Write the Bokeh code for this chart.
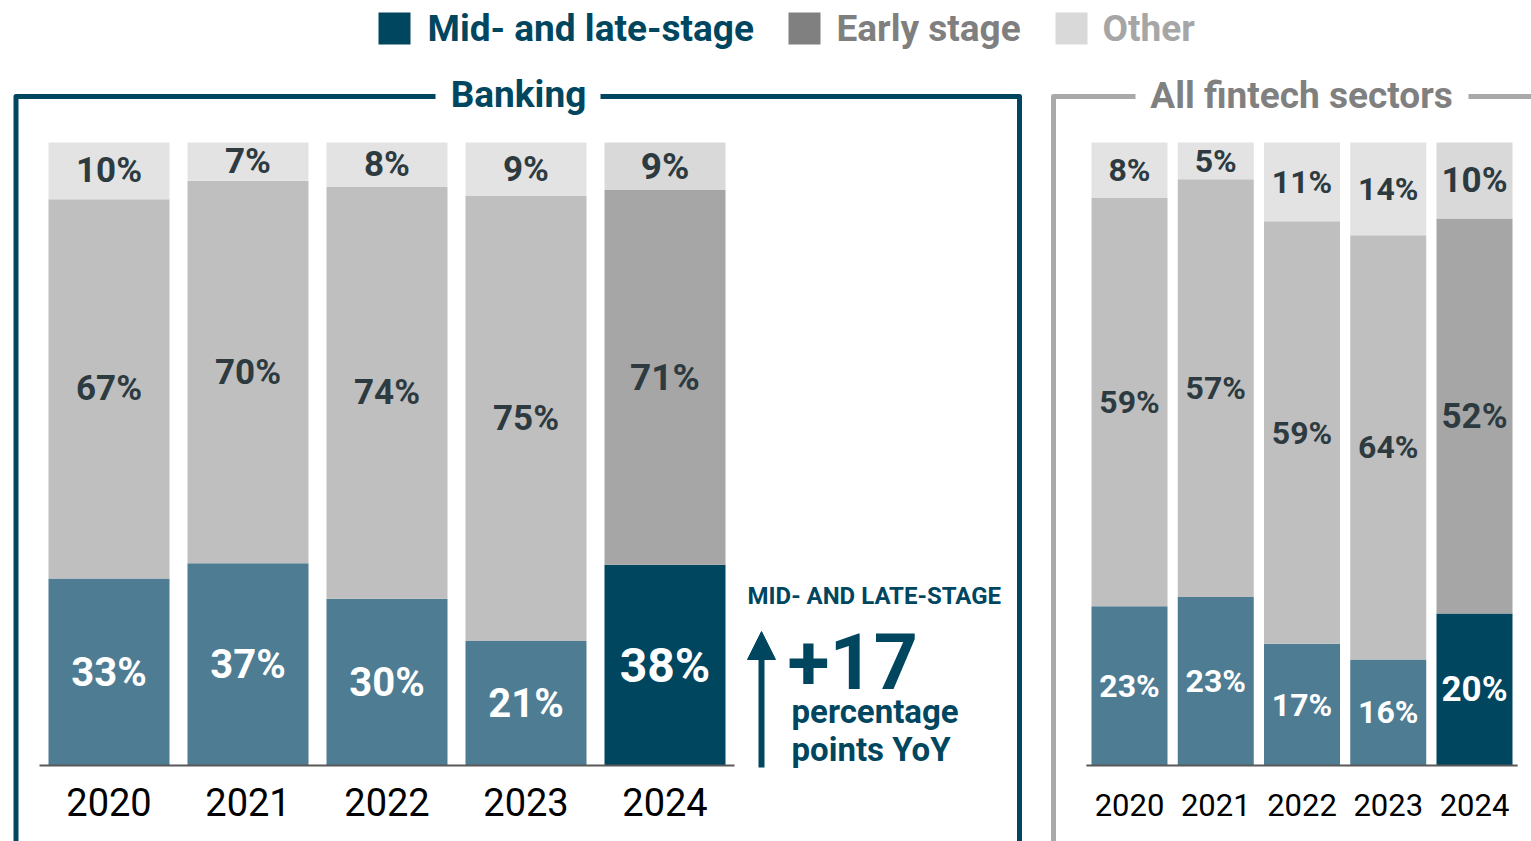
from bokeh.plotting import figure
from bokeh.models import Range1d, ColumnDataSource, Arrow, NormalHead
from bokeh.core.properties import value
from bokeh.embed import file_html
from bokeh.resources import INLINE

# ---------------- data ----------------
years = ["2020", "2021", "2022", "2023", "2024"]
bank_mid = [33, 37, 30, 21, 38]
bank_early = [67, 70, 74, 75, 71]
bank_other = [10, 7, 8, 9, 9]
fin_mid = [23, 23, 17, 16, 20]
fin_early = [59, 57, 59, 64, 52]
fin_other = [8, 5, 11, 14, 10]
series_names = ["Mid- and late-stage", "Early stage", "Other"]
panel_titles = ["Banking", "All fintech sectors"]
callout_head = "MID- AND LATE-STAGE"
callout_value = "+17"
callout_lines = ["percentage", "points YoY"]

# ---------------- style ----------------
DARK = "#00465f"
MID_COL, MID_HL = "#4e7d93", "#00465f"
EARLY_COL, EARLY_HL = "#bfbfbf", "#a6a6a6"
OTHER_COL, OTHER_HL = "#e3e3e3", "#d9d9d9"
LABEL_DARK = "#2d3b41"
FONT = value("Roboto")

W, H = 1531, 841
X0, Y0 = 0, 0
BASE_Y, TOP_Y = 765, 142

p = figure(width=W, height=H, output_backend="svg", toolbar_location=None,
           x_range=Range1d(X0, X0 + W), y_range=Range1d(Y0 + H, Y0),
           x_axis_type=None, y_axis_type=None, min_border=0,
           outline_line_color=None, background_fill_color="white",
           border_fill_color="white")
p.grid.visible = False

k = BASE_Y - TOP_Y
p.extra_y_ranges = {"share": Range1d((BASE_Y - (Y0 + H)) / k, (BASE_Y - Y0) / k)}


def idx_range(c0, step):
    return Range1d((X0 - c0) / step, (X0 + W - c0) / step)


p.extra_x_ranges = {"bank": idx_range(108.5, 139.0), "fin": idx_range(1129.0, 86.25)}


def draw_panel(rname, mid, early, other, bar_w, fs_grey, fs_mid, fs_year, year_y):
    n = len(years)
    last = n - 1
    xs, bot, top, col, lab, ly, lc, ls = [], [], [], [], [], [], [], []
    for i in range(n):
        t = mid[i] + early[i] + other[i]
        segs = [(0, mid[i], mid[i], MID_HL if i == last else MID_COL, "white", fs_mid[i == last]),
                (mid[i], mid[i] + early[i], early[i], EARLY_HL if i == last else EARLY_COL, LABEL_DARK, fs_grey[i == last]),
                (mid[i] + early[i], t, other[i], OTHER_HL if i == last else OTHER_COL, LABEL_DARK, fs_grey[i == last])]
        for b, tp, v, c, tc, fs in segs:
            xs.append(i)
            bot.append(b / t)
            top.append(tp / t)
            col.append(c)
            lab.append(f"{v}%")
            ly.append((b + tp) / 2 / t)
            lc.append(tc)
            ls.append(f"{fs}px")
    src = ColumnDataSource(dict(x=xs, bottom=bot, top=top, color=col, label=lab,
                                ly=ly, lc=lc, ls=ls))
    p.vbar(x="x", width=bar_w, bottom="bottom", top="top", fill_color="color",
           line_color=None, source=src, x_range_name=rname, y_range_name="share")
    p.text(x="x", y="ly", text="label", text_color="lc", text_font_size="ls",
           text_font=FONT, text_font_style="bold", text_align="center",
           text_baseline="middle", source=src, x_range_name=rname, y_range_name="share")
    p.segment(x0=[-0.5], y0=[0], x1=[n - 0.5], y1=[0], line_color="#595959",
              line_width=2, x_range_name=rname, y_range_name="share")
    p.text(x=list(range(n)), y=[year_y] * n, text=years, text_color="black",
           text_font=FONT, text_font_size=value(f"{fs_year}px"), text_align="center",
           text_baseline="middle", x_range_name=rname)


draw_panel("bank", bank_mid, bank_early, bank_other, 121 / 139.0, (35, 37), (40, 48), 38, 801)
draw_panel("fin", fin_mid, fin_early, fin_other, 76 / 86.25, (32, 35), (32, 35), 31, 804)

# ---------------- panel frames ----------------
p.multi_line(xs=[[15.5, 15.5, 435], [600, 1019, 1019]],
             ys=[[Y0 + H + 5, 96, 96], [96, 96, Y0 + H + 5]],
             line_color=DARK, line_width=5, line_join="round")
p.multi_line(xs=[[1053, 1053, 1135], [1468, 1540]],
             ys=[[Y0 + H + 5, 96, 96], [96, 96]],
             line_color="#a9a9a9", line_width=5, line_join="round")
p.text(x=[518], y=[94], text=[panel_titles[0]], text_color=DARK, text_font=FONT,
       text_font_style="bold", text_font_size=value("37px"), text_align="center",
       text_baseline="middle")
p.text(x=[1301], y=[95], text=[panel_titles[1]], text_color="#808080", text_font=FONT,
       text_font_style="bold", text_font_size=value("37px"), text_align="center",
       text_baseline="middle")

# ---------------- legend ----------------
leg_sq_x = [378, 788, 1055]
leg_tx_x = [427, 836, 1102]
leg_sq_col = [DARK, "#808080", "#d9d9d9"]
leg_tx_col = [DARK, "#7f7f7f", "#a6a6a6"]
p.quad(left=leg_sq_x, right=[x + 32 for x in leg_sq_x], top=[12] * 3, bottom=[44] * 3,
       fill_color=leg_sq_col, line_color=None)
p.text(x=leg_tx_x, y=[28] * 3, text=series_names, text_color=leg_tx_col, text_font=FONT,
       text_font_style="bold", text_font_size=value("37px"), text_align="left",
       text_baseline="middle")

# ---------------- callout ----------------
p.add_layout(Arrow(end=NormalHead(size=28, fill_color=DARK, line_color=DARK, line_width=1),
                   x_start=761, y_start=767, x_end=761, y_end=631,
                   line_color=DARK, line_width=6))
p.text(x=[747], y=[595], text=[callout_head], text_color=DARK, text_font=FONT,
       text_font_style="bold", text_font_size=value("24px"), text_align="left",
       text_baseline="middle")
p.text(x=[787], y=[660], text=[callout_value], text_color=DARK, text_font=FONT,
       text_font_style="bold", text_font_size=value("77px"), text_align="left",
       text_baseline="middle")
p.text(x=[791, 791], y=[711, 749], text=callout_lines, text_color=DARK, text_font=FONT,
       text_font_style="bold", text_font_size=value("33px"), text_align="left",
       text_baseline="middle")

open("out.html", "w").write(file_html(p, INLINE))
